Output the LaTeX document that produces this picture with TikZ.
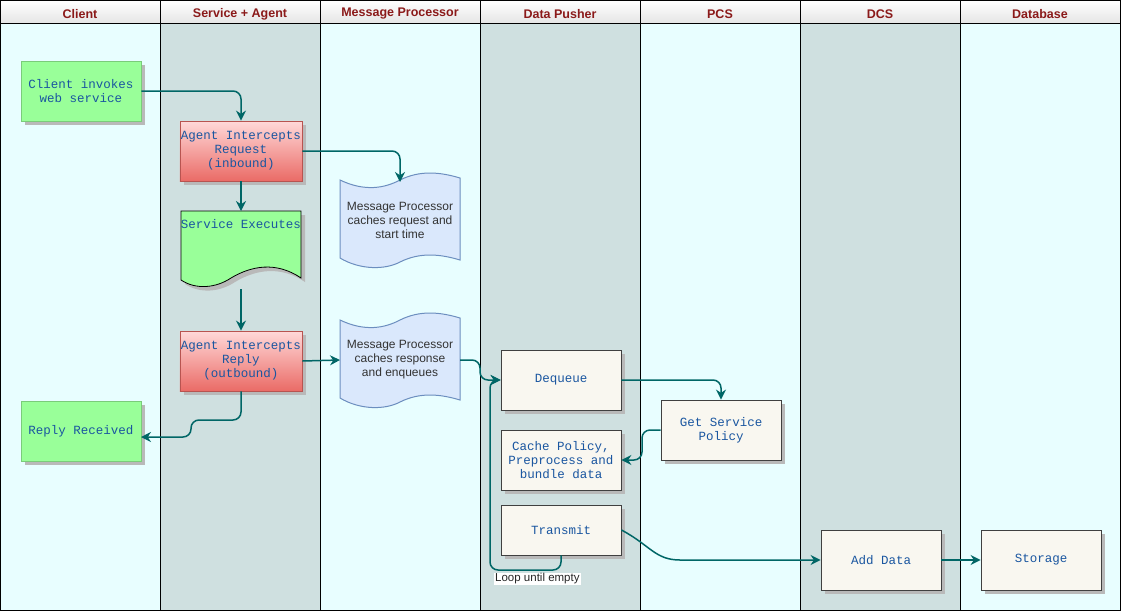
\documentclass[tikz,border=0pt]{standalone}
\usepackage{fontspec}
\setmainfont{Liberation Sans}
\newfontfamily\mono{Liberation Mono}
\usetikzlibrary{arrows.meta,shadows,positioning}
\definecolor{laneA}{HTML}{E8FEFF}
\definecolor{laneB}{HTML}{CFE0E0}
\definecolor{hdr}{HTML}{8B1A1A}
\definecolor{txt}{HTML}{1A56A0}
\definecolor{teal}{HTML}{006666}
\definecolor{grn}{HTML}{99FF99}
\definecolor{boxc}{HTML}{F9F7F0}
\definecolor{tapef}{HTML}{DAE8FC}
\definecolor{taped}{HTML}{6C8EBF}
\tikzset{
 x=1pt,y=-1pt,
 shd/.style={drop shadow={shadow xshift=4pt,shadow yshift=-4pt,fill=gray!55,opacity=1}},
 box/.style={draw=black!75,line width=0.8pt,minimum width=120pt,minimum height=60pt,align=center,font=\mono\fontsize{12.5}{14}\selectfont,text=txt,shd,inner sep=1pt},
 gbox/.style={box,fill=grn,draw=grn!80!black},
 rbox/.style={box,top color=red!15,bottom color={rgb,255:red,234;green,107;blue,102},draw={rgb,255:red,184;green,84;blue,80}},
 wbox/.style={box,fill=boxc},
 arr/.style={draw=teal,line width=1.5pt,rounded corners=8pt,-{Stealth[length=10pt,width=10pt]}},
 hd/.style={font=\bfseries\fontsize{12.5}{14}\selectfont,text=hdr},
 mp/.style={font=\fontsize{12}{14}\selectfont,text=black!80,align=center},
}
\begin{document}
\begin{tikzpicture}
\useasboundingbox (0,0) rectangle (1121,611);
% lanes
\foreach \i/\c/\t in {0/laneA/Client,1/laneB/Service + Agent,2/laneA/Message Processor,3/laneB/Data Pusher,4/laneA/PCS,5/laneB/DCS,6/laneA/Database}{
 \fill[\c] (\i*160,23) rectangle (\i*160+160,610);
 \shade[top color=white,bottom color=gray!20] (\i*160,0) rectangle (\i*160+160,23);
 \node[hd] (h\i) at (\i*160+80,14) {\t};
 \draw[black,line width=0.8pt] (\i*160,0) rectangle (\i*160+160,610);
 \draw[black,line width=0.8pt] (\i*160,23) -- (\i*160+160,23);
}
% nodes
\node[gbox] (ci) at (81,91) {Client invokes\\web service};
\node[rbox] (ar) at (241,151) {Agent Intercepts\\Request\\(inbound)};
\node[rbox] (ap) at (241,361) {Agent Intercepts\\Reply\\(outbound)};
\node[gbox] (rr) at (81,431) {Reply Received};
% service executes document shape
\fill[gray!55] (185,215) -- (305,215) -- (305,282) .. controls (280,265) and (255,270) .. (235,282) .. controls (220,292) and (200,294) .. (185,284) -- cycle;
\draw[fill=grn,line width=0.8pt,draw=black] (181,211) -- (301,211) -- (301,278) .. controls (276,261) and (251,266) .. (231,278) .. controls (216,288) and (196,290) .. (181,280) -- cycle;
\coordinate (seT) at (241,211);
\coordinate (seB) at (241,289);
\node[font=\mono\fontsize{12.5}{14}\selectfont,text=txt] (se) at (241,224) {Service Executes};
% tapes
\foreach \n/\yo/\h/\tt in {m1/180/80/{Message Processor\\caches request and\\start time},m2/320/80/{Message Processor\\caches response\\and enqueues}}{
 \draw[fill=tapef,draw=taped,line width=1pt] (340,\yo) .. controls (365,\yo+12) and (385,\yo+8) .. (400,\yo) .. controls (420,\yo-10) and (440,\yo-8) .. (460,\yo-2) -- (460,\yo+\h) .. controls (440,\yo+\h-6) and (420,\yo+\h-8) .. (400,\yo+\h+2) .. controls (385,\yo+\h+10) and (360,\yo+\h+10) .. (340,\yo+\h-2) -- cycle;
 \node[mp] (\n) at (400,\yo+40) {\tt};
}
\coordinate (m1T) at (400,180);
\coordinate (m2L) at (340,360);
\coordinate (m2R) at (460,360);
\node[wbox] (dq) at (561,380) {Dequeue};
\node[wbox] (gs) at (721,430) {Get Service\\Policy};
\node[wbox] (cp) at (561,460) {Cache Policy,\\Preprocess and\\bundle data};
\node[wbox,minimum height=50pt] (tr) at (561,530) {Transmit};
\node[wbox] (ad) at (881,560) {Add Data};
\node[wbox] (st) at (1041,560) {Storage};
\node[fill=white,inner sep=1pt,font=\fontsize{11.5}{13}\selectfont,text=black!85,anchor=west] (lp) at (494,579) {Loop until empty};
% edges
\draw[arr] (ci.east) -- (ar.north |- ci.east) -- (ar.north);
\draw[arr] (ar.east) -- (m1T |- ar.east) -- ([yshift=-2pt]m1T);
\draw[arr] (ar.south) -- (seT);
\draw[arr] (seB) -- (ap.north);
\draw[arr] (ap.east) -- (m2L);
\draw[arr] (m2R) -- (480,360) -- (480,380) -- (dq.west);
\draw[arr] (ap.south) -- (241,420) -- (191,420) -- (191,437) -- (141,437);
\draw[arr] (dq.east) -- (gs.north |- dq.east) -- (gs.north);
\draw[arr] (gs.west) -- (642,430) -- (642,460) -- (cp.east);
\draw[arr,rounded corners=0pt] (tr.east) .. controls (650,545) and (655,560) .. (680,560) -- (ad.west);
\draw[arr] (ad.east) -- (st.west);
\draw[arr] (tr.south) -- (561,570) -- (490,570) -- (490,380) -- (dq.west);
\end{tikzpicture}
\end{document}
